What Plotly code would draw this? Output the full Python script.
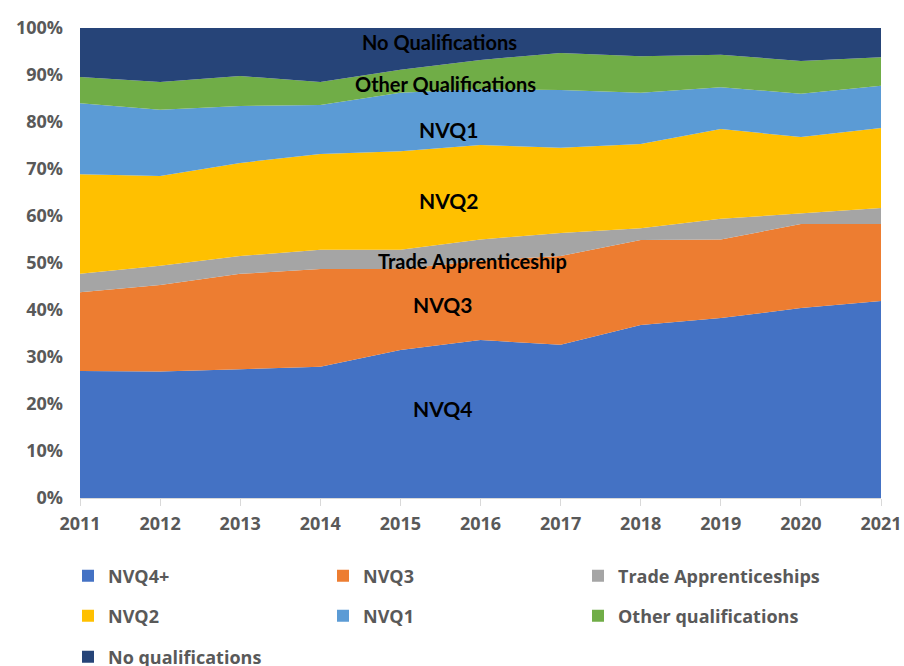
import plotly.graph_objects as go

years = [2011, 2012, 2013, 2014, 2015, 2016, 2017, 2018, 2019, 2020, 2021]
nvq4 = [27.0, 26.9, 27.4, 27.9, 31.5, 33.6, 32.6, 36.8, 38.3, 40.4, 41.9]
nvq3 = [16.8, 18.4, 20.3, 20.8, 17.2, 16.9, 18.9, 18.1, 16.7, 17.9, 16.4]
trade = [3.9, 4.1, 3.8, 4.1, 4.1, 4.5, 4.9, 2.5, 4.4, 2.3, 3.4]
nvq2 = [21.2, 19.1, 19.8, 20.4, 21.0, 20.1, 18.1, 17.9, 19.1, 16.2, 17.0]
nvq1 = [15.1, 14.1, 12.1, 10.4, 12.4, 11.9, 12.3, 10.9, 8.9, 9.2, 9.0]
other = [5.6, 5.9, 6.4, 4.9, 4.9, 6.2, 7.9, 7.8, 6.9, 7.0, 6.1]
noqual = [10.4, 11.5, 10.2, 11.5, 8.9, 6.8, 5.3, 6.0, 5.7, 7.0, 6.2]

series = [
    ("NVQ4+", nvq4, "#4472C4", "legend"),
    ("NVQ3", nvq3, "#ED7D31", "legend"),
    ("Trade Apprenticeships", trade, "#A5A5A5", "legend"),
    ("NVQ2", nvq2, "#FFC000", "legend2"),
    ("NVQ1", nvq1, "#5B9BD5", "legend2"),
    ("Other qualifications", other, "#70AD47", "legend2"),
    ("No qualifications", noqual, "#264478", "legend3"),
]

labels = ["No Qualifications", "Other Qualifications", "NVQ1", "NVQ2",
          "Trade Apprenticeship", "NVQ3", "NVQ4"]
label_x = [2015.49, 2015.56, 2015.6, 2015.6, 2015.9, 2015.53, 2015.53]
label_y = [97.0, 88.1, 78.3, 63.2, 50.4, 41.1, 19.1]
label_size = [20, 20, 21, 21, 20, 21, 21]

fig = go.Figure()
for name, vals, col, lg in series:
    fig.add_trace(go.Scatter(
        x=years, y=vals, name=name, mode="lines", stackgroup="one",
        groupnorm="percent", line=dict(width=0, color=col), fillcolor=col,
        showlegend=False, hoverinfo="skip"))

for name, vals, col, lg in series:
    fig.add_trace(go.Scatter(
        x=[None], y=[None], name=name, mode="markers",
        marker=dict(symbol="square", size=12, color=col),
        legend=lg, showlegend=True))

for t, x, y, s in zip(labels, label_x, label_y, label_size):
    fig.add_annotation(x=x, y=y, text="<b>%s</b>" % t, showarrow=False,
                       font=dict(family="Lato, Open Sans, sans-serif", size=s, color="#000000"))

W, H = 904, 666
tickfont = dict(family="Open Sans, Lato, sans-serif", size=18, color="#595959")
legfont = dict(family="Open Sans, Lato, sans-serif", size=18, color="#595959",
               weight="bold")
legcommon = dict(orientation="h", entrywidth=210, entrywidthmode="pixels",
                 xref="container", yref="container",
                 x=68 / W, xanchor="left", yanchor="middle", font=legfont,
                 bgcolor="rgba(0,0,0,0)", itemclick=False, traceorder="normal")

fig.update_layout(
    width=W, height=H,
    margin=dict(l=80, r=23, t=28, b=168, autoexpand=False),
    paper_bgcolor="white", plot_bgcolor="white",
    xaxis=dict(range=[2011, 2021], tickvals=years,
               ticktext=["<b>%d</b>" % y for y in years],
               ticks="outside", ticklen=7,
               tickcolor="#D9D9D9", showline=True, linecolor="#D9D9D9",
               showgrid=False, zeroline=False, tickfont=tickfont,
               automargin=False, ticklabelstandoff=2, ticklabeloverflow="allow"),
    yaxis=dict(range=[0, 100], tickvals=[0, 10, 20, 30, 40, 50, 60, 70, 80, 90, 100],
               ticktext=["<b>%d%%</b>" % v for v in range(0, 101, 10)],
               showgrid=False, zeroline=False, tickfont=tickfont, ticks="",
               automargin=False, ticklabelstandoff=16),
    legend=dict(y=1 - 576 / H, **legcommon),
    legend2=dict(y=1 - 616 / H, **legcommon),
    legend3=dict(y=1 - 657 / H, **legcommon),
)

fig.write_html(
    "out.html",
    config={"displayModeBar": False},
    post_script="document.body.style.margin='0';document.body.style.overflow='hidden';",
)
